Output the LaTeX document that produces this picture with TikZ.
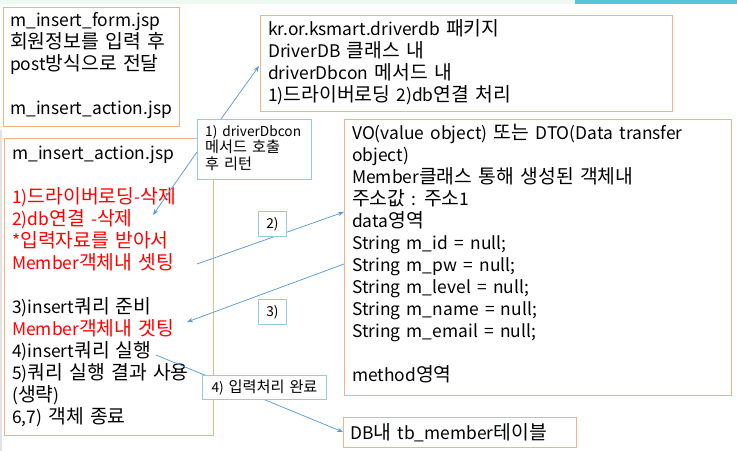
\documentclass[tikz,border=0pt]{standalone}
\usepackage{fontspec}
\setmainfont[WordSpace=1.6]{Noto Sans CJK KR}
\newfontfamily\hangulfont[Scale=1.11,WordSpace=1.5]{Noto Sans CJK KR}
\XeTeXinterchartokenstate=1
\newXeTeXintercharclass\hangulclass
\count255="AC00
\loop
  \XeTeXcharclass\count255=\hangulclass
  \ifnum\count255<"D7A3 \advance\count255 by 1
\repeat
\XeTeXinterchartoks 0 \hangulclass = {\hangulfont}
\XeTeXinterchartoks 4095 \hangulclass = {\hangulfont}
\XeTeXinterchartoks \hangulclass 0 = {\normalfont}
\XeTeXinterchartoks \hangulclass 4095 = {\normalfont}
\usetikzlibrary{arrows.meta}
\definecolor{boxorange}{HTML}{F4B183}
\definecolor{calloutblue}{HTML}{93CDDD}
\definecolor{arrowblue}{HTML}{5B9BD5}
\definecolor{redtext}{HTML}{FF0000}
\definecolor{topgreen}{HTML}{EEF9F1}
\definecolor{topteal}{HTML}{56C6D6}
\definecolor{leftgrey}{HTML}{E3E3E3}
\tikzset{
  obox/.style={draw=boxorange, line width=1bp, inner sep=0, anchor=north west},
  cbox/.style={draw=calloutblue, fill=white, line width=1bp, inner sep=0, anchor=north west},
  txt/.style={anchor=north west, inner sep=0, align=left, font=\fontsize{17.4bp}{22bp}\selectfont},
  ctxt/.style={anchor=north west, inner sep=0, align=left, font=\fontsize{13.7bp}{16.5bp}\selectfont},
  conn/.style={draw=arrowblue, line width=0.75bp, -{Stealth[length=6bp,width=4.5bp]}},
}
\newcommand{\fl}{\rule{0pt}{16bp}}
\newcommand{\fc}{\rule{0pt}{13bp}}
\begin{document}
\begin{tikzpicture}[x=1bp,y=-1bp]
\useasboundingbox (0,0) rectangle (737,451);
% background decoration
\fill[topgreen] (0,0) rectangle (737,4);
\fill[topteal] (575,0) rectangle (737,4);
\fill[leftgrey] (0,130) rectangle (2,451);

% boxes
\node[obox, minimum width=176bp, minimum height=119bp] (form) at (3,7) {};
\node[obox, minimum width=209bp, minimum height=297bp] (action) at (4,138) {};
\node[obox, minimum width=412bp, minimum height=96bp] (pkg) at (260,15) {};
\node[obox, minimum width=387bp, minimum height=276bp] (vo) at (344,119) {};
\node[obox, minimum width=233bp, minimum height=30bp] (db) at (343,417) {};

% box texts
\node[txt] (formtxt) at (10,10) {\fl m\_insert\_form.jsp\\회원정보를 입력 후\\post방식으로 전달\\\mbox{}\\m\_insert\_action.jsp};
\node[txt] (actiontxt) at (12,143) {\fl m\_insert\_action.jsp\\\mbox{}\\
\textcolor{redtext}{1)드라이버로딩-삭제}\\
\textcolor{redtext}{2)db연결 -삭제}\\
\textcolor{redtext}{*입력자료를 받아서}\\
\textcolor{redtext}{Member객체내 셋팅}\\\mbox{}\\
3)insert쿼리 준비\\
\textcolor{redtext}{Member객체내 겟팅}\\
4)insert쿼리 실행\\
5)쿼리 실행 결과 사용\\
(생략)\\
6,7) 객체 종료};
\node[txt] (pkgtxt) at (268,19) {\fl kr.or.ksmart.driverdb 패키지\\DriverDB 클래스 내\\driverDbcon 메서드 내\\1)드라이버로딩 2)db연결 처리};
\node[txt] (votxt) at (352,123) {\fl VO(value object) 또는 DTO(Data transfer\\object)\\Member클래스 통해 생성된 객체내\\주소값 : 주소1\\data영역\\String m\_id = null;\\String m\_pw = null;\\String m\_level = null;\\String m\_name = null;\\String m\_email = null;\\\mbox{}\\method영역};
\node[txt, anchor=base west] (dbtxt) at (350,439) {DB내 tb\_member테이블};

% connector end points
\coordinate (a1s) at (221,119);
\coordinate (a1e) at (259,66);
\coordinate (a1bs) at (197,152);
\coordinate (a1be) at (153,215);
\coordinate (a2s) at (197,264);
\coordinate (a2e) at (344,212);
\coordinate (a3s) at (344,264);
\coordinate (a3e) at (187,322);
\coordinate (a4s) at (156,355);
\coordinate (a4e) at (343,432);

% connectors
\draw[conn] (a1s) -- (a1e);
\draw[conn] (a1bs) -- (a1be);
\draw[conn] (a2s) -- (a2e);
\draw[conn] (a3s) -- (a3e);
\draw[conn] (a4s) -- (a4e);

% callouts
\node[cbox, minimum width=114bp, minimum height=60bp] (c1) at (197,119) {};
\node[ctxt] (c1txt) at (205,123) {\fc 1) driverDbcon\\메서드 호출\\후 리턴};
\node[cbox, minimum width=28bp, minimum height=25bp] (c2) at (258,211) {};
\node[ctxt, anchor=center] (c2txt) at (c2.center) {2)};
\node[cbox, minimum width=28bp, minimum height=25bp] (c3) at (258,299) {};
\node[ctxt, anchor=center] (c3txt) at (c3.center) {3)};
\node[cbox, minimum width=124bp, minimum height=24bp] (c4) at (202,375) {};
\node[ctxt, anchor=center] (c4txt) at (c4.center) {4) 입력처리 완료};
\end{tikzpicture}
\end{document}
